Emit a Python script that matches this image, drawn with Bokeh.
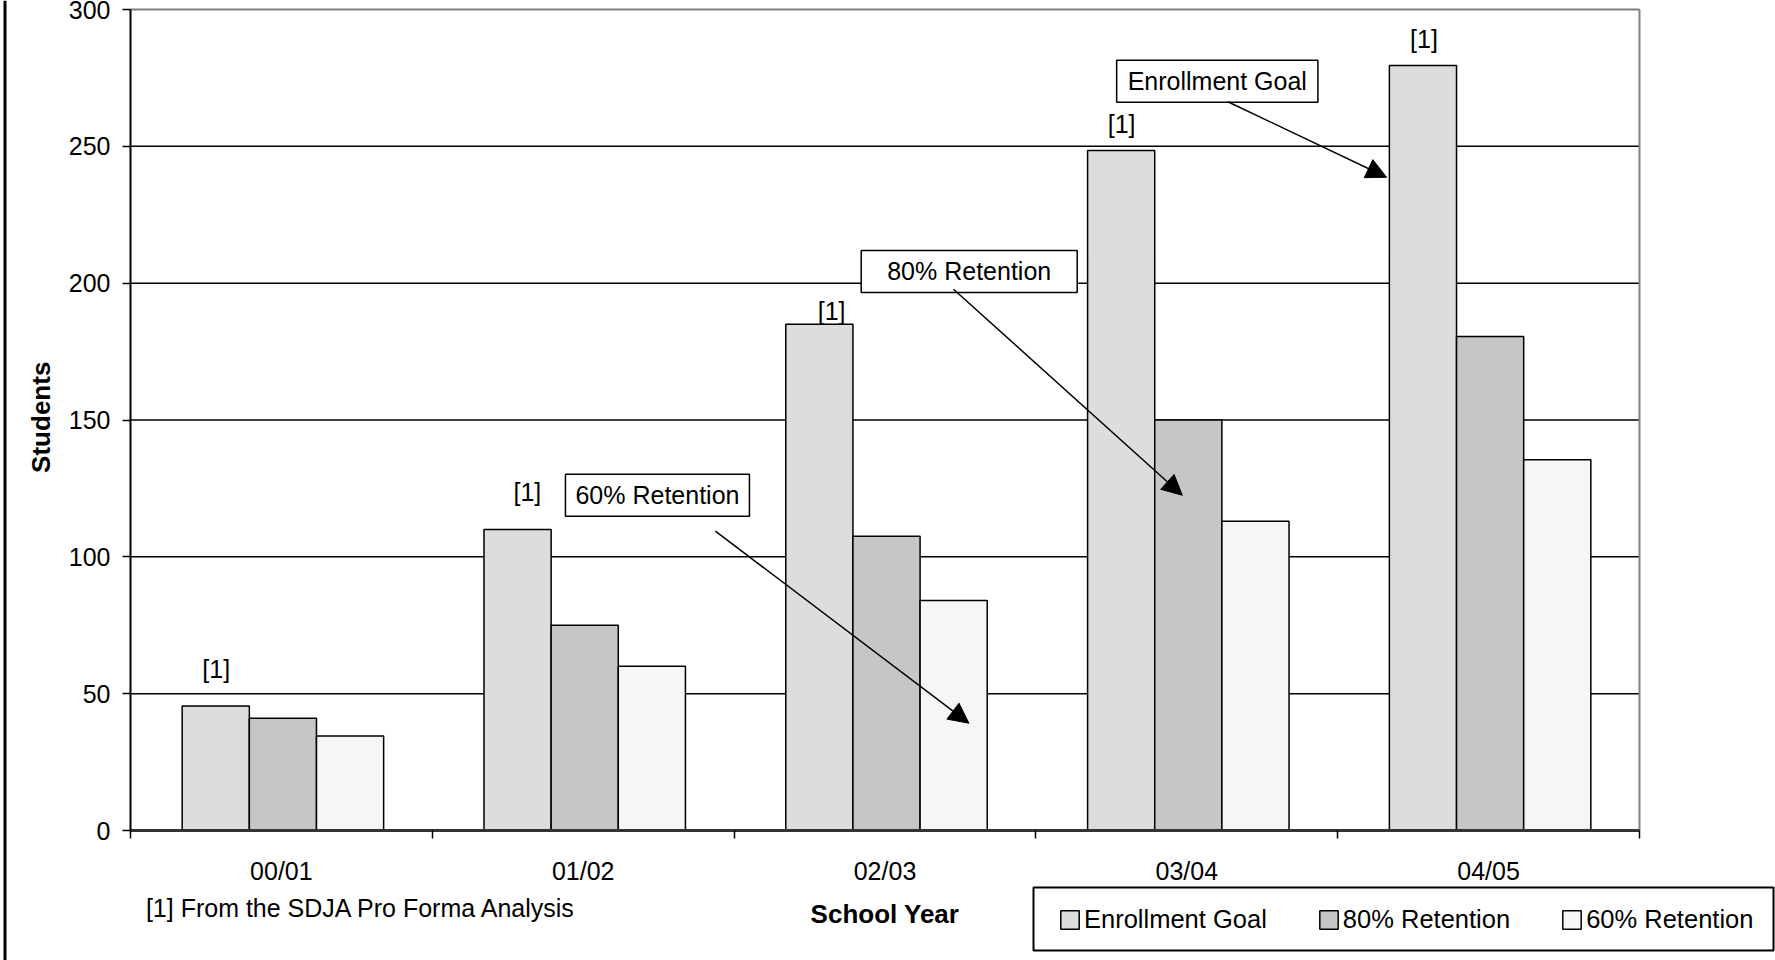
import math
from bokeh.plotting import figure
from bokeh.models import FixedTicker, Label, Arrow, NormalHead, Legend, LegendItem, Range1d
from bokeh.core.properties import value
from bokeh.embed import file_html
from bokeh.resources import INLINE

# ---- data ----
school_years = ["00/01", "01/02", "02/03", "03/04", "04/05"]
enrollment_goal = [45.5, 110, 185, 248.5, 279.5]
retention_80 = [41, 75, 107.5, 150, 180.5]
retention_60 = [34.5, 60, 84, 113, 135.5]
y_ticks = [0, 50, 100, 150, 200, 250, 300]
series_names = ["Enrollment Goal", "80% Retention", "60% Retention"]
note_text = "[1]"
footnote = "[1] From the SDJA Pro Forma Analysis"

FONT = "Liberation Sans"
W, H = 1775, 960
colors = ["#DDDDDD", "#C6C6C6", "#F6F6F6"]

# plot-area geometry (pixels on the canvas)
PX_LEFT, PX_RIGHT, PX_TOP, PX_BOTTOM = 130, 1639, 9, 830
n = len(school_years)
ymax = y_ticks[-1]
kx = (PX_RIGHT - PX_LEFT) / n
ky = (PX_BOTTOM - PX_TOP) / ymax

x_range = Range1d(-PX_LEFT / kx, (W - PX_LEFT) / kx)
y_range = Range1d((PX_BOTTOM - H) / ky, PX_BOTTOM / ky)

p = figure(width=W, height=H, output_backend="svg", toolbar_location=None, tools="",
           title=None, x_range=x_range, y_range=y_range,
           min_border_left=0, min_border_right=0, min_border_top=0, min_border_bottom=0)
p.background_fill_color = "white"
p.border_fill_color = "white"
p.outline_line_color = None
p.xgrid.visible = False
p.ygrid.visible = False

# horizontal gridlines at the y ticks
grid_vals = y_ticks[1:-1]
p.segment(x0=[0] * len(grid_vals), x1=[n] * len(grid_vals), y0=grid_vals, y1=grid_vals,
          line_color="black", line_width=1.5)
# grey top / right border of the plot area
p.segment(x0=[0, n], x1=[n, n], y0=[ymax, 0], y1=[ymax, ymax], line_color="#808080",
          line_width=2)

# bars
centers = [i + 0.505 for i in range(n)]
bar_w = 0.2225
offsets = [-bar_w, 0.0, bar_w]
renderers = []
for k, vals in enumerate([enrollment_goal, retention_80, retention_60]):
    r = p.vbar(x=[c + offsets[k] for c in centers], top=vals, bottom=0, width=bar_w,
               fill_color=colors[k], line_color="black", line_width=1.5)
    renderers.append(r)

# x axis
xa = p.xaxis[0]
xa.fixed_location = 0
xa.bounds = (0, n)
label_pos = [i + 0.5 for i in range(n)]
xa.ticker = FixedTicker(ticks=label_pos, minor_ticks=list(range(n + 1)))
xa.major_label_overrides = {pos: lab for pos, lab in zip(label_pos, school_years)}
xa.major_tick_out = 0
xa.major_tick_in = 0
xa.minor_tick_out = 8
xa.minor_tick_in = 0
xa.minor_tick_line_color = "black"
xa.minor_tick_line_width = 1.5
xa.axis_line_color = "#333333"
xa.axis_line_width = 3
xa.major_label_standoff = 18
xa.major_label_text_font = FONT
xa.major_label_text_font_size = "25px"
xa.major_label_text_color = "black"

# y axis
ya = p.yaxis[0]
ya.fixed_location = 0
ya.bounds = (0, ymax)
ya.ticker = FixedTicker(ticks=y_ticks)
ya.major_tick_out = 8
ya.major_tick_in = 0
ya.major_tick_line_color = "black"
ya.major_tick_line_width = 1.5
ya.minor_tick_line_color = None
ya.axis_line_color = "black"
ya.axis_line_width = 2
ya.major_label_standoff = 12
ya.major_label_text_font = FONT
ya.major_label_text_font_size = "25px"
ya.major_label_text_color = "black"

# [1] notes above enrollment bars
note_x = [0.284, 1.315, 2.323, 3.284, 4.286]
note_y = [59.1, 123.6, 189.7, 258.0, 289.4]
p.text(x=note_x, y=note_y, text=[note_text] * n, text_font=value(FONT),
       text_font_size="25px", text_align="center", text_baseline="middle",
       text_color="black")

# callout boxes
boxes = [
    ("60% Retention", 1.746, 122.5, 10),
    ("80% Retention", 2.779, 204.3, 26),
    ("Enrollment Goal", 3.601, 273.8, 11),
]
for txt, bx, by, padx in boxes:
    p.add_layout(Label(x=bx, y=by, text=txt, text_align="center", text_baseline="middle",
                       text_font=FONT, text_font_size="25px", text_color="black",
                       border_line_color="black", border_line_width=1.5,
                       background_fill_color="white", padding=(padx, 7)))

arrows = [
    (1.938, 109.4, 2.778, 39.2),
    (2.727, 197.8, 3.485, 122.5),
    (3.636, 266.3, 4.162, 238.7),
]
for xs, ys, xe, ye in arrows:
    p.add_layout(Arrow(x_start=xs, y_start=ys, x_end=xe, y_end=ye, line_width=1.5,
                       line_color="black",
                       end=NormalHead(size=20, fill_color="black", line_color="black")))

# footnote & axis titles
p.add_layout(Label(x=0.051, y=-28.4, text=footnote, text_align="left", text_baseline="middle",
                   text_font=FONT, text_font_size="25px", text_color="black"))
p.add_layout(Label(x=2.5, y=-30.6, text="School Year", text_align="center",
                   text_baseline="middle", text_font=FONT, text_font_size="26px",
                   text_font_style="bold", text_color="black"))
p.add_layout(Label(x=-0.298, y=151.0, text="Students", text_align="center",
                   text_baseline="middle", angle=math.pi / 2, text_font=FONT,
                   text_font_size="26px", text_font_style="bold", text_color="black"))

# left border line of the chart area
p.segment(x0=[-0.4158], x1=[-0.4158], y0=[y_range.start], y1=[y_range.end],
          line_color="black", line_width=3)

# legend frame
p.quad(left=[(1033 - PX_LEFT) / kx], right=[(1773 - PX_LEFT) / kx],
       top=[(PX_BOTTOM - 887) / ky], bottom=[(PX_BOTTOM - 950) / ky],
       fill_color="white", line_color="black", line_width=2)

# legend
legend = Legend(items=[LegendItem(label=nm, renderers=[r]) for nm, r in zip(series_names, renderers)],
                orientation="horizontal", location=(1058, 26.5), glyph_width=23, glyph_height=23,
                label_standoff=3, spacing=50, padding=17, margin=0,
                border_line_color=None, background_fill_alpha=0.0,
                label_text_font=FONT, label_text_font_size="25.5px", label_text_color="black")
p.add_layout(legend)

open("out.html", "w").write(file_html(p, INLINE))
